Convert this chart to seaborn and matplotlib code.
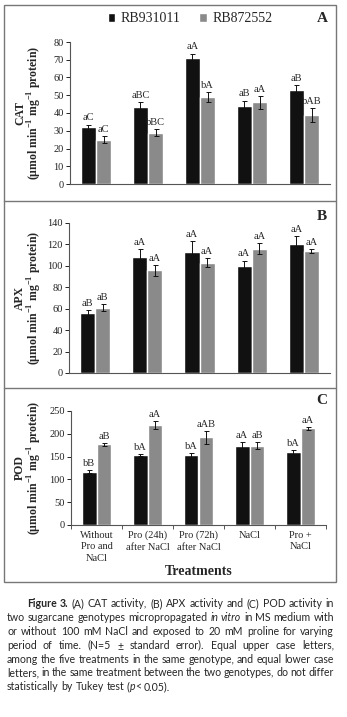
import re
import pandas as pd
import seaborn as sns
import matplotlib.pyplot as plt
from matplotlib.patches import Rectangle

# ---- data ----
treatments = ["Without\nPro and\nNaCl", "Pro (24h)\nafter NaCl", "Pro (72h)\nafter NaCl", "NaCl", "Pro +\nNaCl"]
genotypes = ["RB931011", "RB872552"]

cat_rb931 = [32, 43.5, 71, 44, 53]
cat_rb931_se = [1.5, 2.5, 2.5, 3, 3]
cat_rb872 = [25, 29, 49, 46, 39]
cat_rb872_se = [2, 2, 3, 3.5, 4]
cat_lab931 = ["aC", "aBC", "aA", "aB", "aB"]
cat_lab872 = ["aC", "bBC", "bA", "aA", "bAB"]

apx_rb931 = [56, 108, 113, 100, 120]
apx_rb931_se = [3, 8, 10, 5, 8]
apx_rb872 = [61, 96, 103, 116, 114]
apx_rb872_se = [3.5, 5, 4, 5, 2]
apx_lab931 = ["aB", "aA", "aA", "aA", "aA"]
apx_lab872 = ["aB", "aA", "aA", "aA", "aA"]

pod_rb931 = [117, 154, 153, 173, 160]
pod_rb931_se = [3, 2, 4, 8, 5]
pod_rb872 = [177, 219, 192, 174, 212]
pod_rb872_se = [3, 9, 15, 8, 3]
pod_lab931 = ["bB", "bA", "bA", "aA", "bA"]
pod_lab872 = ["aB", "aA", "aAB", "aB", "aA"]

caption = [
    "**Figure** **3.** (A) CAT activity, (B) APX activity and (C) POD activity in",
    "two sugarcane genotypes micropropagated _in_ _vitro_ in MS medium with",
    "or without 100 mM NaCl and exposed to 20 mM proline for varying",
    "period of time. (N=5 ± standard error). Equal upper case letters,",
    "among the five treatments in the same genotype, and equal lower case",
    "letters, in the same treatment between the two genotypes, do not differ",
    "statistically by Tukey test (_p_< 0.05).",
]

W, H = 347, 717
SERIF = ["Liberation Serif", "DejaVu Serif"]
sns.set_style("ticks")
plt.rcParams["font.family"] = SERIF
plt.rcParams["mathtext.fontset"] = "custom"
plt.rcParams["mathtext.rm"] = "Liberation Serif"
plt.rcParams["mathtext.bf"] = "Liberation Serif:bold"
plt.rcParams["axes.edgecolor"] = "#555555"

fig = plt.figure(figsize=(W / 100, H / 100), dpi=100)


def px_axes(l, r, t, b):
    return fig.add_axes([l / W, 1 - b / H, (r - l) / W, (b - t) / H])


def panel(ax, v1, e1, v2, e2, lab1, lab2, ymax, step, name, letter, ly, show_x=False):
    df = pd.DataFrame({
        "treatment": treatments * 2,
        "genotype": [genotypes[0]] * 5 + [genotypes[1]] * 5,
        "value": v1 + v2,
    })
    sns.barplot(data=df, x="treatment", y="value", hue="genotype",
                palette=["#111111", "#8a8a8a"], width=0.58, saturation=1,
                errorbar=None, ax=ax, legend=(letter == "A"))
    for cont, errs, labs in zip(ax.containers, [e1, e2], [lab1, lab2]):
        for bar, err, lab in zip(cont, errs, labs):
            xc = bar.get_x() + bar.get_width() / 2
            top = bar.get_height()
            ax.errorbar(xc, top, yerr=err, color="#111111", lw=0.7,
                        capsize=1.8, capthick=0.7)
            ax.annotate(lab, (xc, top + err), xytext=(0, 1.5),
                        textcoords="offset points", ha="center", va="bottom",
                        fontsize=7.5)
    ax.set_xlim(-0.5, 4.5)
    ax.set_ylim(0, ymax)
    ax.set_yticks(range(0, ymax + 1, step))
    ax.tick_params(axis="y", labelsize=7.5, length=3, width=0.7, pad=1.5, colors="#222222")
    sns.despine(ax=ax)
    ax.spines["left"].set_linewidth(0.8)
    ax.spines["bottom"].set_linewidth(0.8)
    ax.set_ylabel(name + "\n" + r"(µmol min$^{\mathbf{-1}}$ mg$^{\mathbf{-1}}$ protein)",
                  fontsize=8.5, fontweight="bold", linespacing=0.95)
    l = ax.get_position().x0 * W
    ax.yaxis.set_label_coords((44 - l) / (ax.get_position().width * W), 0.5)
    if show_x:
        ax.set_xticks([i + 0.5 for i in range(-1, 5)], minor=True)
        ax.tick_params(axis="x", which="minor", length=3, width=0.7, color="#555555")
        ax.tick_params(axis="x", which="major", length=0, labelsize=7.5, pad=4)
        for t in ax.get_xticklabels():
            t.set_linespacing(1.4)
        ax.set_xlabel("Treatments", fontsize=10, fontweight="bold", labelpad=1)
    else:
        ax.set_xticks([])
        ax.set_xlabel("")
    fig.text(322 / W, 1 - ly / H, letter, fontsize=11, fontweight="bold",
             ha="center", va="center")


axA = px_axes(70, 330, 42, 184)
panel(axA, cat_rb931, cat_rb931_se, cat_rb872, cat_rb872_se, cat_lab931, cat_lab872,
      80, 10, "CAT", "A", 18)
sns.move_legend(axA, "center", bbox_to_anchor=(190 / W, 1 - 19 / H),
                bbox_transform=fig.transFigure, ncol=2, frameon=False, title=None,
                fontsize=10, handlelength=0.55, handleheight=0.55,
                handletextpad=0.4, columnspacing=1.3)

axB = px_axes(69, 330, 223, 373)
panel(axB, apx_rb931, apx_rb931_se, apx_rb872, apx_rb872_se, apx_lab931, apx_lab872,
      140, 20, "APX", "B", 216)

axC = px_axes(71, 326, 411, 525)
panel(axC, pod_rb931, pod_rb931_se, pod_rb872, pod_rb872_se, pod_lab931, pod_lab872,
      250, 50, "POD", "C", 401, show_x=True)

# frame around the three panels
frame = dict(fill=False, ec="#777777", lw=1.0, transform=fig.transFigure)
fig.patches.append(Rectangle((4 / W, 1 - 582 / H), 332 / W, 577 / H, **frame))
for yy in [201, 388]:
    fig.add_artist(plt.Line2D([4 / W, 336 / W], [1 - yy / H] * 2, color="#777777",
                              lw=1.0, transform=fig.transFigure))

# caption, justified line by line
CAP = "Lato"
cap_size = 7.6
renderer = fig.canvas.get_renderer()


def segs(token):
    out = []
    for part in re.split(r"(\*\*[^*]+\*\*|_[^_]+_)", token):
        if not part:
            continue
        if part.startswith("**"):
            out.append((part[2:-2], "bold", "normal"))
        elif part.startswith("_"):
            out.append((part[1:-1], "normal", "italic"))
        else:
            out.append((part, "normal", "normal"))
    return out


t1 = fig.text(0, 0, "a a", family=CAP, fontsize=cap_size)
t2 = fig.text(0, 0, "aa", family=CAP, fontsize=cap_size)
space_w = t1.get_window_extent(renderer).width - t2.get_window_extent(renderer).width
t1.remove()
t2.remove()

for i, line in enumerate(caption):
    y = 607 + i * 13.9
    x0 = 27 if i == 0 else 7
    x1 = 334
    words = []
    for tok in line.split(" "):
        pieces = []
        for txt, wt, st in segs(tok):
            t = fig.text(0, 1 - y / H, txt, family=CAP, fontsize=cap_size,
                         fontweight=wt, fontstyle=st, va="baseline", ha="left")
            pieces.append(t)
        words.append(pieces)
    widths = [sum(p.get_window_extent(renderer).width for p in w) for w in words]
    if i < len(caption) - 1:
        gap = (x1 - x0 - sum(widths)) / (len(words) - 1)
    else:
        gap = space_w
    x = x0
    for w, wd in zip(words, widths):
        xx = x
        for p in w:
            p.set_x(xx / W)
            xx += p.get_window_extent(renderer).width
        x += wd + gap

fig.savefig("out.png", dpi=100)
